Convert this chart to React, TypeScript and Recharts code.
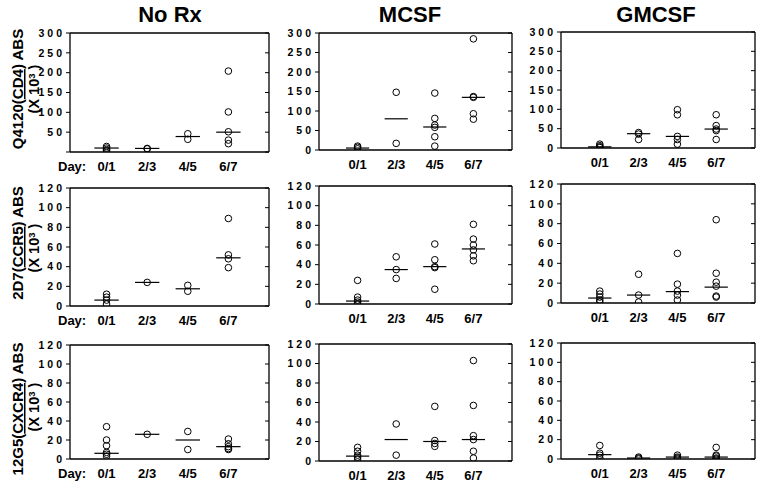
import React from 'react';
import { ScatterChart, Scatter, XAxis, YAxis, ReferenceLine } from 'recharts';

const FONT = 'Arial, "Liberation Sans", Helvetica, sans-serif';

const days = ['0/1', '2/3', '4/5', '6/7'];
const treatments = ['No Rx', 'MCSF', 'GMCSF'];
const ticksCD4 = [0, 50, 100, 150, 200, 250, 300];
const ticksChemo = [0, 20, 40, 60, 80, 100, 120];

// CD4 row
const cd4NoRx = [[14, 10, 6, 3], [9, 8], [46, 32], [204, 101, 51, 30, 21]];
const cd4NoRxMed = [10, 9, 39, 50];
const cd4Mcsf = [[10, 7, 3], [148, 17], [146, 81, 64, 58, 34, 10], [285, 137, 135, 93, 79]];
const cd4McsfMed = [5, 80, 59, 135];
const cd4Gmcsf = [[10, 6, 3, 1], [40, 36, 22], [99, 86, 30, 22, 10], [86, 58, 49, 45, 22]];
const cd4GmcsfMed = [3, 37, 30, 49];

// CCR5 row
const ccr5NoRx = [[12, 9, 6, 2], [24], [21, 15], [89, 52, 48, 39]];
const ccr5NoRxMed = [6, 24, 17.5, 49];
const ccr5Mcsf = [[24, 7, 4, 2, 0], [48, 35, 26], [61, 45, 38, 37, 15], [81, 66, 60, 55, 49, 44]];
const ccr5McsfMed = [3, 35, 38, 56];
const ccr5Gmcsf = [[12, 9, 6, 3, 1], [29, 8, 1], [50, 19, 12, 8, 3], [84, 30, 21, 17, 7, 6]];
const ccr5GmcsfMed = [5, 8, 11.5, 16];

// CXCR4 row
const cxcr4NoRx = [[34, 20, 14, 7, 5, 3], [26], [29, 10], [21, 16, 13, 11, 10]];
const cxcr4NoRxMed = [6, 26, 20, 13];
const cxcr4Mcsf = [[14, 10, 6, 4, 2], [38, 6], [56, 21, 18, 15], [103, 57, 26, 22, 10, 3]];
const cxcr4McsfMed = [5, 22, 20, 22];
const cxcr4Gmcsf = [[14, 6, 4, 1], [2, 1, 0], [4, 2, 1, 0], [12, 4, 3, 1, 0]];
const cxcr4GmcsfMed = [4.5, 1, 2, 2];

const cols = [
  { x: 70, w: 199, dom: [0.1, 5] },
  { x: 319, w: 193, dom: [0, 5] },
  { x: 561, w: 194, dom: [0, 5] },
];
const rowBoxes = [
  [[33, 152], [33, 150], [32, 148]],
  [[188, 306], [186, 304], [184, 303]],
  [[345, 459], [344, 461], [343, 459]],
];

const circleShape = (p: any) => (
  <circle cx={p.cx} cy={p.cy} r={3.3} fill="none" stroke="#000" strokeWidth={1} />
);

function Panel(props: any) {
  const { x, top, bottom, w, dom, yMax, yTicks, values, medians, hideZero } = props;
  const h = bottom - top;
  const data = values.flatMap((arr: number[], i: number) => arr.map((v) => ({ d: i + 1, v })));
  const cw = w + 50 + 10;
  const ch = h + 10 + 30;
  const tickLen = (4 * (dom[1] - dom[0])) / w;
  const tickStyle = { fill: '#000', fontSize: 10.5, fontWeight: 'bold', fontFamily: FONT, letterSpacing: 3 };
  return (
    <div style={{ position: 'absolute', left: x - 50, top: top - 10 }}>
      <ScatterChart width={cw} height={ch} margin={{ top: 10, right: 10, bottom: 0, left: 0 }}>
        <XAxis
          xAxisId="b"
          type="number"
          dataKey="d"
          domain={dom}
          ticks={[1, 2, 3, 4]}
          interval={0}
          tickFormatter={(v: number) => days[v - 1]}
          tickLine={false}
          tickSize={8}
          tickMargin={2}
          axisLine={{ stroke: '#000', strokeWidth: 1.3 }}
          height={30}
          allowDataOverflow
          tick={{ fill: '#000', fontSize: 13, fontWeight: 'bold', fontFamily: FONT }}
        />
        <YAxis
          yAxisId="l"
          type="number"
          dataKey="v"
          domain={[0, yMax]}
          ticks={yTicks}
          interval={0}
          width={50}
          tickSize={4}
          tickMargin={1}
          tickLine={{ stroke: '#000' }}
          axisLine={{ stroke: '#000', strokeWidth: 1.3 }}
          tick={tickStyle}
          tickFormatter={(v: number) => (hideZero && v === 0 ? '' : String(v))}
          allowDataOverflow
        />
        <ReferenceLine xAxisId="b" yAxisId="l" y={yMax} stroke="#000" strokeWidth={1.3} />
        <ReferenceLine xAxisId="b" yAxisId="l" x={dom[1]} stroke="#000" strokeWidth={1.3} />
        {yTicks.map((t: number) => (
          <ReferenceLine
            key={`rt${t}`}
            xAxisId="b"
            yAxisId="l"
            segment={[{ x: dom[1] - tickLen, y: t }, { x: dom[1], y: t }]}
            stroke="#000"
            strokeWidth={1}
          />
        ))}
        <Scatter xAxisId="b" yAxisId="l" data={data} dataKey="v" shape={circleShape} isAnimationActive={false} />
        {medians.map((m: number, i: number) => (
          <ReferenceLine
            key={i}
            xAxisId="b"
            yAxisId="l"
            segment={[{ x: i + 1 - 0.3, y: m }, { x: i + 1 + 0.3, y: m }]}
            stroke="#000"
            strokeWidth={1.2}
          />
        ))}
      </ScatterChart>
    </div>
  );
}

const rows = [
  { yMax: 300, ticks: ticksCD4, sets: [[cd4NoRx, cd4NoRxMed], [cd4Mcsf, cd4McsfMed], [cd4Gmcsf, cd4GmcsfMed]] },
  { yMax: 120, ticks: ticksChemo, sets: [[ccr5NoRx, ccr5NoRxMed], [ccr5Mcsf, ccr5McsfMed], [ccr5Gmcsf, ccr5GmcsfMed]] },
  { yMax: 120, ticks: ticksChemo, sets: [[cxcr4NoRx, cxcr4NoRxMed], [cxcr4Mcsf, cxcr4McsfMed], [cxcr4Gmcsf, cxcr4GmcsfMed]] },
];

const yLabels = [
  { pre: 'Q4120(', und: 'CD4', post: ') ABS', cy1: 89, cy2: 89 },
  { pre: '2D7(', und: 'CCR5', post: ') ABS', cy1: 243, cy2: 248 },
  { pre: '12G5(', und: 'CXCR4', post: ') ABS', cy1: 409, cy2: 407 },
];
const titleX = [170, 410, 656];
const dayBaselines = [171, 325, 478];

export default function App() {
  return (
    <div style={{ position: 'absolute', left: 0, top: 0, width: 764, height: 490, background: '#fff', fontFamily: FONT }}>
      <svg width={764} height={490} style={{ position: 'absolute', left: 0, top: 0 }}>
        {treatments.map((t, i) => (
          <text key={t} x={titleX[i]} y={22} textAnchor="middle" fontSize={22} fontWeight="bold" fontFamily={FONT} fill="#000">
            {t}
          </text>
        ))}
        {yLabels.map((l, i) => (
          <g key={i}>
            <text
              transform={`translate(23, ${l.cy1}) rotate(-90)`}
              textAnchor="middle"
              fontSize={15}
              fontWeight="bold"
              fontFamily={FONT}
              fill="#000"
            >
              {l.pre}
              <tspan textDecoration="underline">{l.und}</tspan>
              {l.post}
            </text>
            <text
              transform={`translate(38.5, ${l.cy2}) rotate(-90)`}
              textAnchor="middle"
              fontSize={14.5}
              fontWeight="bold"
              fontFamily={FONT}
              fill="#000"
            >
              (X 10<tspan dy={-4} fontSize={9.5}>3</tspan>
              <tspan dy={4}> )</tspan>
            </text>
          </g>
        ))}
        {dayBaselines.map((b, i) => (
          <text key={i} x={58} y={b} fontSize={13} fontWeight="bold" fontFamily={FONT} fill="#000">
            Day:
          </text>
        ))}
      </svg>
      {rows.map((r, ri) =>
        r.sets.map((s, ci) => (
          <Panel
            key={`${ri}-${ci}`}
            x={cols[ci].x}
            w={cols[ci].w}
            dom={cols[ci].dom}
            top={rowBoxes[ri][ci][0]}
            bottom={rowBoxes[ri][ci][1]}
            yMax={r.yMax}
            yTicks={r.ticks}
            values={s[0]}
            medians={s[1]}
            hideZero={ri === 0 && ci === 0}
          />
        ))
      )}
    </div>
  );
}
